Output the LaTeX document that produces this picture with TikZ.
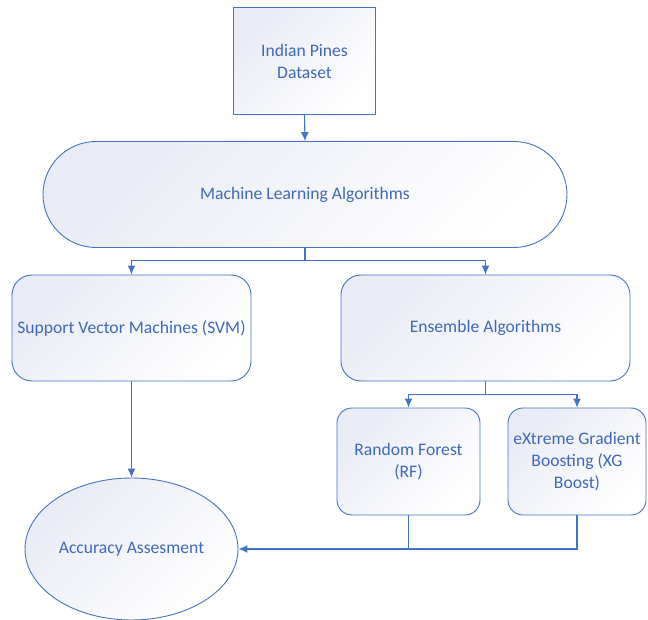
\documentclass[tikz,border=0pt]{standalone}
\usepackage{fontspec}
\setmainfont{Carlito}
\usetikzlibrary{arrows.meta,shapes.geometric}
\definecolor{edge}{HTML}{4472C4}
\definecolor{txt}{HTML}{4068B8}
\definecolor{lav}{HTML}{E9EBF5}
\tikzset{
  box/.style={draw=edge, line width=0.9pt, top color=lav, bottom color=white, shading angle=45,
    text=txt, align=center, font=\fontsize{17.6}{22}\selectfont, inner sep=2pt},
  conn/.style={draw=edge, line width=1.1pt},
  arr/.style={conn, -{Latex[length=9pt,width=8pt]}}
}
\begin{document}
\begin{tikzpicture}[x=1pt,y=-1pt]
\useasboundingbox (0,0) rectangle (648,620);
\node[box, minimum width=142pt, minimum height=107pt] (data) at (304.5,61) {Indian Pines\\Dataset};
\node[box, minimum width=524pt, minimum height=106pt, rounded corners=53pt] (ml) at (305,194.5) {Machine Learning Algorithms};
\node[box, minimum width=239pt, minimum height=106pt, rounded corners=20pt] (svm) at (131.5,328) {Support Vector Machines (SVM)};
\node[box, minimum width=289pt, minimum height=106pt, rounded corners=20pt] (ens) at (485.5,328) {Ensemble Algorithms};
\node[box, minimum width=143pt, minimum height=107pt, rounded corners=15pt] (rf) at (408.5,461.5) {Random Forest\\(RF)};
\node[box, minimum width=138pt, minimum height=107pt, rounded corners=15pt] (xg) at (577,461.5) {eXtreme Gradient\\Boosting (XG\\Boost)};
\node[box, ellipse, minimum width=213pt, minimum height=142pt, inner sep=0pt] (acc) at (131.5,549) {Accuracy Assesment};
\draw[arr] (data.south) -- (ml.north);
\draw[arr] (ml.south) -- ++(0,13) -| (svm.north);
\draw[arr] (ml.south) -- ++(0,13) -| (ens.north);
\draw[arr] (ens.south) -- ++(0,13) -| (rf.north);
\draw[arr] (ens.south) -- ++(0,13) -| (xg.north);
\draw[arr] (svm.south) -- (acc.north);
\draw[arr] (rf.south) |- (acc.east);
\draw[conn] (xg.south) |- (rf.south |- acc.east);
\end{tikzpicture}
\end{document}
